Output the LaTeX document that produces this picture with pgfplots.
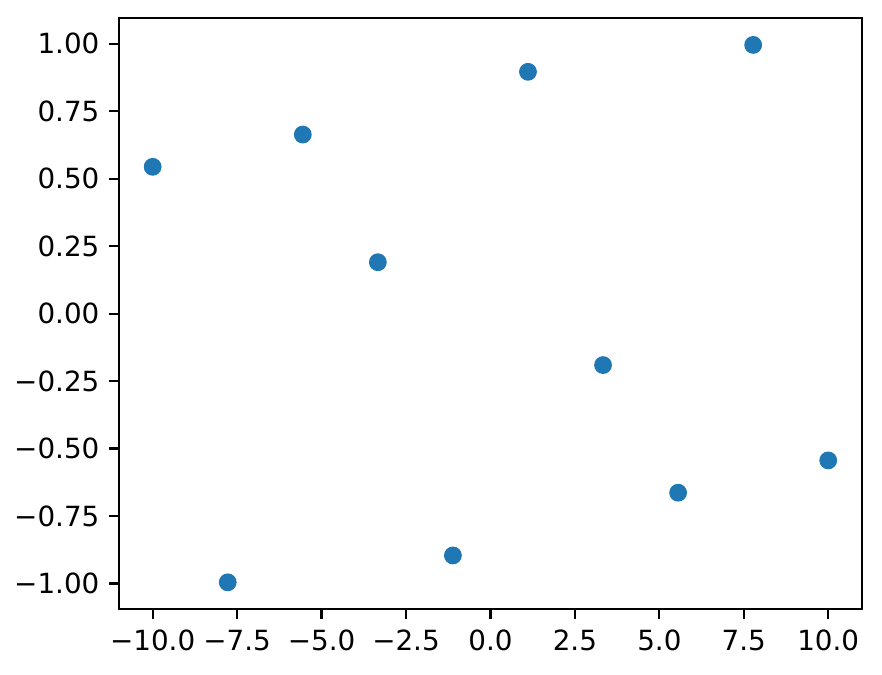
\documentclass[border=0pt]{standalone}
\usepackage{fontspec}
\setmainfont{DejaVu Sans}
\usepackage{pgfplots}
\pgfplotsset{compat=1.18}
\definecolor{mplblue}{HTML}{1F77B4}
\begin{document}
\begin{tikzpicture}
\begin{axis}[
  name=ax,
  scale only axis,
  width=267.5pt, height=212.8pt,
  xmin=-11, xmax=11,
  ymin=-1.0953, ymax=1.0953,
  axis line style={line width=0.8pt},
  tick align=outside,
  major tick length=3.5pt,
  tick style={black, line width=0.8pt},
  xtick={-10,-7.5,-5,-2.5,0,2.5,5,7.5,10},
  xticklabels={−10.0,−7.5,−5.0,−2.5,0.0,2.5,5.0,7.5,10.0},
  ytick={-1,-0.75,-0.5,-0.25,0,0.25,0.5,0.75,1},
  yticklabels={−1.00,−0.75,−0.50,−0.25,0.00,0.25,0.50,0.75,1.00},
  ticklabel style={font=\fontsize{10}{12}\selectfont},
  xtick pos=bottom, ytick pos=left,
  xticklabel style={yshift=-0.5pt},
]
\addplot[only marks, mark=*, mark size=3pt, mark options={fill=mplblue, draw=mplblue}] coordinates {
(-10.0000, 0.5440)
(-7.7778, -0.9957)
(-5.5556, 0.6636)
(-3.3333, 0.1906)
(-1.1111, -0.8961)
(1.1111, 0.8961)
(3.3333, -0.1906)
(5.5556, -0.6636)
(7.7778, 0.9957)
(10.0000, -0.5440)
};
\end{axis}
\pgfresetboundingbox
\path ([shift={(-42.8pt,-23.4pt)}]ax.south west) rectangle ([shift={(7.2pt,6.5pt)}]ax.north east);
\end{tikzpicture}
\end{document}
